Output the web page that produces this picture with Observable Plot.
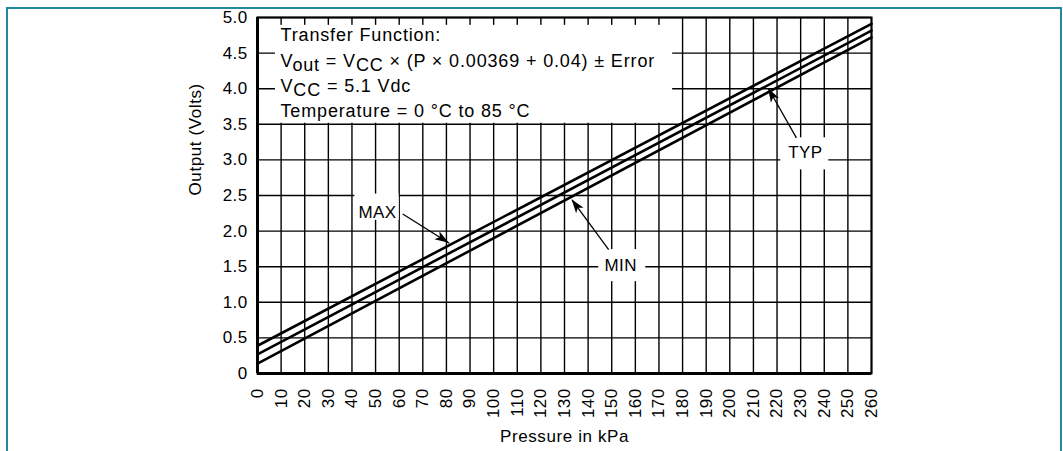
<!DOCTYPE html>
<html><head><meta charset="utf-8">
<script src="https://cdn.jsdelivr.net/npm/d3@7"></script>
<script src="https://cdn.jsdelivr.net/npm/@observablehq/plot@0.6"></script>
<style>
html,body{margin:0;padding:0;background:#fff;width:1063px;height:451px;overflow:hidden}
#frame{position:absolute;left:6px;top:7px;width:1056px;height:470px;border:2px solid #2388a0;border-bottom:none;box-sizing:border-box}
#chart{position:absolute;left:0;top:0}
#chart svg text{letter-spacing:0.4px}
</style></head><body>
<div id="frame"></div><div id="chart"></div>
<script>
// Data
const pressureKPa = [0, 260];
const maxOutput = [0.39, 4.91];
const typOutput = [0.27, 4.815];
const minOutput = [0.14, 4.72];
const xTicks = [0,10,20,30,40,50,60,70,80,90,100,110,120,130,140,150,160,170,180,190,200,210,220,230,240,250,260];
const yTicks = [0,0.5,1.0,1.5,2.0,2.5,3.0,3.5,4.0,4.5,5.0];
const boxLines = [
  "Transfer Function:",
  "V{out} = V{CC} × (P × 0.00369 + 0.04) ± Error",
  "V{CC} = 5.1 Vdc",
  "Temperature = 0 °C to 85 °C"
];
const xLabel = "Pressure in kPa";
const yLabel = "Output (Volts)";

const rows = [];
[["MAX", maxOutput], ["TYP", typOutput], ["MIN", minOutput]].forEach(([s, vals]) =>
  pressureKPa.forEach((p, i) => rows.push({series: s, p, v: vals[i]})));

// annotation layout (data coordinates)
const callouts = [
  {label: "MAX", x: 50.8, y: 2.26, bx1: 41.2, bx2: 60, by1: 2.15, by2: 2.52, ax1: 61.5, ay1: 2.24, ax2: 81.2, ay2: 1.83},
  {label: "MIN", x: 153.8, y: 1.52, bx1: 144.5, bx2: 164.4, by1: 1.29, by2: 1.74, ax1: 148.7, ay1: 1.74, ax2: 133.2, ay2: 2.44},
  {label: "TYP", x: 232, y: 3.10, bx1: 221.6, bx2: 241.9, by1: 2.86, by2: 3.31, ax1: 228.2, ay1: 3.31, ax2: 216.4, ay2: 4.00}
];
const textBox = [{x1: 7.6, x2: 175.8, y1: 3.515, y2: 4.89}];

const plot = Plot.plot({
  width: 1063, height: 451,
  marginLeft: 257, marginRight: 192, marginTop: 17, marginBottom: 78,
  x: {domain: [0, 260], ticks: xTicks, tickRotate: -90, tickSize: 0, tickPadding: 15, label: null},
  y: {domain: [0, 5], ticks: yTicks, tickSize: 0, tickPadding: 10, label: null,
      tickFormat: d => d === 0 ? "0" : d.toFixed(1)},
  style: {fontFamily: "'Liberation Sans', Arial, Helvetica, sans-serif", fontSize: "17px", color: "#000", background: "transparent", overflow: "visible"},
  marks: [
    Plot.ruleX(xTicks, {stroke: "#000", strokeWidth: 1.4}),
    Plot.ruleY(yTicks, {stroke: "#000", strokeWidth: 1.4}),
    Plot.rect(textBox, {x1: "x1", x2: "x2", y1: "y1", y2: "y2", fill: "white"}),
    Plot.rect(callouts, {x1: "bx1", x2: "bx2", y1: "by1", y2: "by2", fill: "white"}),
    Plot.line(rows, {x: "p", y: "v", z: "series", stroke: "#000", strokeWidth: 2.6}),
    Plot.frame({stroke: "#000", strokeWidth: 2}),
    Plot.ruleX([0], {stroke: "#000", strokeWidth: 3}),
    Plot.ruleY([0], {stroke: "#000", strokeWidth: 3}),
    Plot.link(callouts, {x1: "ax1", y1: "ay1", x2: "ax2", y2: "ay2", stroke: "#000", strokeWidth: 1.3}),
    Plot.text(callouts, {x: "x", y: "y", text: "label", textAnchor: "middle", lineAnchor: "middle", fill: "#000", fontSize: 17}),
    ...boxLines.map((t, i) => Plot.text([t], {text: d => d, frameAnchor: "top-left", dx: 23, dy: 18 + i * 25.3, textAnchor: "start", lineAnchor: "middle", fill: "#000", fontSize: 18})),
    Plot.text([xLabel], {text: d => d, frameAnchor: "bottom", dy: 63, lineAnchor: "middle", fill: "#000", fontSize: 17}),
    Plot.text([yLabel], {text: d => d, frameAnchor: "left", dx: -62, rotate: -90, lineAnchor: "middle", fill: "#000", fontSize: 17})
  ]
});

// subscripts and spacing
d3.select(plot).selectAll("text").each(function() {
  const s = this.textContent;
  if (boxLines.includes(s)) this.style.letterSpacing = "0.85px";
  if (s === xLabel || s === yLabel) this.style.letterSpacing = "0.6px";
  if (!s.includes("{")) return;
  const parts = s.split(/(\{[^}]*\})/).filter(p => p.length);
  this.textContent = "";
  const el = d3.select(this);
  let shifted = false;
  parts.forEach(p => {
    if (p.startsWith("{")) {
      el.append("tspan").attr("dy", 4.5).text(p.slice(1, -1));
      shifted = true;
    } else {
      el.append("tspan").attr("dy", shifted ? -4.5 : 0).text(p);
      shifted = false;
    }
  });
});

// filled arrowheads using the plot's scales
const sx = plot.scale("x"), sy = plot.scale("y");
const g = d3.select(plot).append("g").attr("fill", "#000");
callouts.forEach(c => {
  const x1 = sx.apply(c.ax1), y1 = sy.apply(c.ay1), x2 = sx.apply(c.ax2), y2 = sy.apply(c.ay2);
  const dx = x2 - x1, dy = y2 - y1, len = Math.hypot(dx, dy);
  const ux = dx / len, uy = dy / len, nx = -uy, ny = ux;
  const L = 14, w = 4.6;
  const bx = x2 - ux * L, by = y2 - uy * L;
  const pts = [[x2, y2], [bx + nx * w, by + ny * w], [x2 - ux * L * 0.75, y2 - uy * L * 0.75], [bx - nx * w, by - ny * w]];
  g.append("path").attr("d", "M" + pts.map(p => p.join(",")).join("L") + "Z");
});

document.getElementById("chart").append(plot);
</script>
</body></html>
